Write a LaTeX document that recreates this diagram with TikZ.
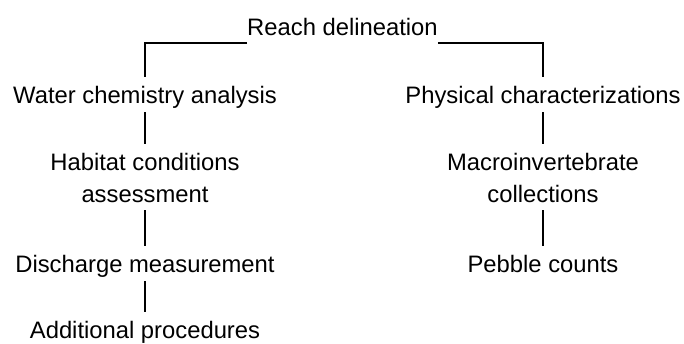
\documentclass[tikz,border=0pt]{standalone}
\usepackage{fontspec}
\setmainfont{Liberation Sans}
\begin{document}
\begin{tikzpicture}[x=1pt,y=-1pt,
  lbl/.style={inner sep=0pt,outer sep=0pt,font=\fontsize{23.8}{32}\selectfont},
  one/.style={lbl,text height=17.5pt,text depth=5pt,anchor=base},
  two/.style={lbl,align=center,anchor=north},
  conn/.style={line width=1.8pt,black,shorten >=9pt}]
\useasboundingbox (0,0) rectangle (684,343);
\node[one] (top) at (342.5,35) {Reach delineation};
\node[one] (water) at (145,103) {Water chemistry analysis};
\node[one] (phys) at (543,103) {Physical characterizations};
\node[two] (hab) at (145,153) {Habitat conditions\\assessment};
\node[two] (macro) at (543,153) {Macroinvertebrate\\collections};
\node[one] (dis) at (145,272) {Discharge measurement};
\node[one] (peb) at (543,272) {Pebble counts};
\node[one] (add) at (145,338) {Additional procedures};
\path (top.south west) ++(0,3) coordinate (tl);
\path (top.south east) ++(0,3) coordinate (tr);
\draw[conn,line cap=butt] (tl) -| (water.north);
\draw[conn] (tr) -| (phys.north);
\draw[conn,shorten <=4pt] (water.south) -- (hab.north);
\draw[conn,shorten <=8pt] (hab.south) -- (dis.north);
\draw[conn,shorten <=4pt] (dis.south) -- (add.north);
\draw[conn,shorten <=4pt] (phys.south) -- (macro.north);
\draw[conn,shorten <=8pt] (macro.south) -- (peb.north);
\end{tikzpicture}
\end{document}
